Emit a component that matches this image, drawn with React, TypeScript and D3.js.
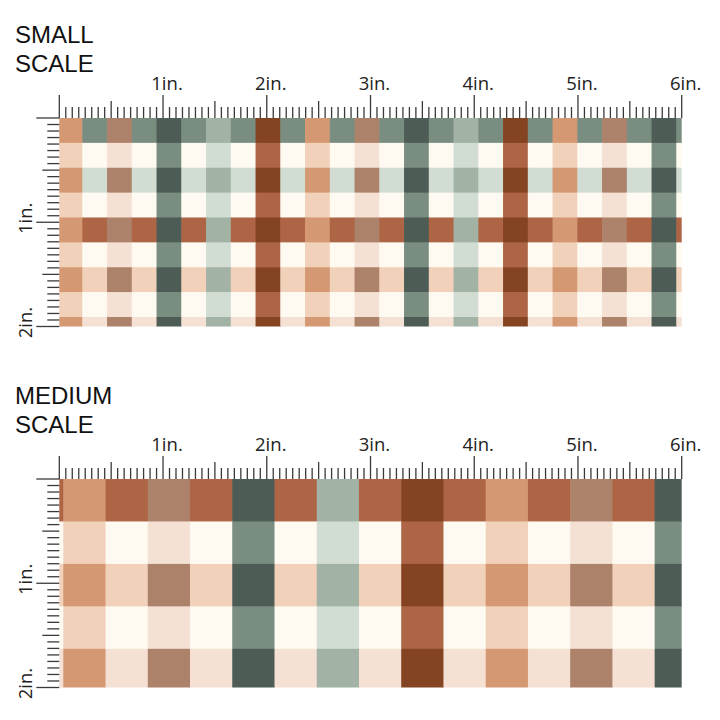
import React from "react";
import * as d3 from "d3";

// Stripe colour families (full stripe colour, and its light "over white" tone)
const stripeNames = ["tan", "mauve", "darkgreen", "sage", "darkbrown"];
const stripeColors = ["#D49872", "#AD826A", "#4D5C55", "#A2B2A5", "#844421"];
const lightColors = ["#F1D1BA", "#F5E1D4", "#7A8D81", "#D1DCD3", "#AD6545"];
const creamColor = "#FEFAF2";

// Small scale pattern: stripe order across (columns) and down (rows)
const smallColumnStripes = ["tan", "mauve", "darkgreen", "sage", "darkbrown", "tan", "mauve", "darkgreen", "sage", "darkbrown", "tan", "mauve", "darkgreen"];
const smallRowStripes = ["darkgreen", "sage", "darkbrown", "tan", "mauve"];

// Medium scale pattern
const mediumColumnStripes = ["tan", "mauve", "darkgreen", "sage", "darkbrown", "tan", "mauve", "darkgreen"];
const mediumRowStripes = ["darkbrown", "tan", "mauve"];

const topLabels = ["1in.", "2in.", "3in.", "4in.", "5in.", "6in."];
const sideLabels = ["1in.", "2in."];
const smallTitle = ["SMALL", "SCALE"];
const mediumTitle = ["MEDIUM", "SCALE"];

const fullOf = (s: string) => stripeColors[stripeNames.indexOf(s)];
const lightOf = (s: string) => lightColors[stripeNames.indexOf(s)];

function cellColor(col: string | null, row: string | null) {
  if (col && row) return fullOf(col);
  if (col) return lightOf(col);
  if (row) return lightOf(row);
  return creamColor;
}

type PanelProps = {
  id: string;
  top: number;
  title: string[];
  cols: (string | null)[];
  rows: (string | null)[];
  cell: number;
  xOrigin: number;
  yOrigin: number;
};

function Panel({ id, top, title, cols, rows, cell, xOrigin, yOrigin }: PanelProps) {
  const xs = d3.scaleLinear().domain([0, 6]).range([59.3, 681.7]);
  const ys = d3.scaleLinear().domain([0, 2]).range([top, top + 208.5]);
  const left = xs(0);

  const cells: JSX.Element[] = [];
  rows.forEach((r, ri) => {
    cols.forEach((c, ci) => {
      const x0 = xOrigin + ci * cell;
      const y0 = yOrigin + ri * cell;
      const px = xs(x0);
      const py = ys(y0);
      cells.push(
        <rect
          key={`${ri}-${ci}`}
          x={px}
          y={py}
          width={xs(x0 + cell) - px + 0.6}
          height={ys(y0 + cell) - py + 0.6}
          fill={cellColor(c, r)}
        />
      );
    });
  });

  const topTicks = d3.range(0, 97).map((i) => {
    const len = i % 16 === 0 ? 23 : i % 8 === 0 ? 17 : 11;
    return (
      <line key={"t" + i} x1={xs(i / 16)} x2={xs(i / 16)} y1={top - len} y2={top} stroke="#3a3a3a" strokeWidth={1.3} />
    );
  });
  const sideTicks = d3.range(0, 33).map((i) => {
    const len = i % 16 === 0 ? 23 : i % 8 === 0 ? 17 : 12;
    return (
      <line key={"s" + i} x1={left - len} x2={left} y1={ys(i / 16)} y2={ys(i / 16)} stroke="#3a3a3a" strokeWidth={1.3} />
    );
  });

  return (
    <g>
      <defs>
        <clipPath id={id}>
          <rect x={xs(0)} y={ys(0)} width={xs(6) - xs(0)} height={ys(2) - ys(0)} />
        </clipPath>
      </defs>
      <g clipPath={`url(#${id})`}>{cells}</g>
      {topTicks}
      {sideTicks}
      {topLabels.map((t, i) => (
        <text key={t} x={xs(i + 1) + 4} y={top - 28} textAnchor="middle" fontFamily="'Open Sans', sans-serif" fontSize={18.5} fill="#222">
          {t}
        </text>
      ))}
      {sideLabels.map((t, i) => (
        <text
          key={t}
          transform={`translate(32, ${ys(i + 1) - 4}) rotate(-90)`}
          textAnchor="middle"
          fontFamily="'Open Sans', sans-serif"
          fontSize={18.5}
          fill="#222"
        >
          {t}
        </text>
      ))}
      {title.map((t, i) => (
        <text key={t + i} x={15} y={top - 75 + i * 29} fontFamily="'Liberation Sans', Arial, sans-serif" fontSize={24} fill="#111">
          {t}
        </text>
      ))}
    </g>
  );
}

export default function App() {
  const smallCols = smallColumnStripes.flatMap((s) => [s, null]);
  const smallRows = smallRowStripes.flatMap((s) => [s, null]);
  const mediumCols = [null, ...mediumColumnStripes.flatMap((s) => [s, null])];
  const mediumRows = mediumRowStripes.flatMap((s) => [s, null]);
  return (
    <svg width={720} height={720} style={{ position: "absolute", left: 0, top: 0, background: "#fff" }}>
      <rect x={0} y={0} width={720} height={720} fill="#fff" />
      <Panel id="clipSmall" top={118} title={smallTitle} cols={smallCols} rows={smallRows} cell={0.2386} xOrigin={-0.017} yOrigin={0} />
      <Panel id="clipMedium" top={479} title={mediumTitle} cols={mediumCols} rows={mediumRows} cell={0.4072} xOrigin={-0.3687} yOrigin={0} />
    </svg>
  );
}
